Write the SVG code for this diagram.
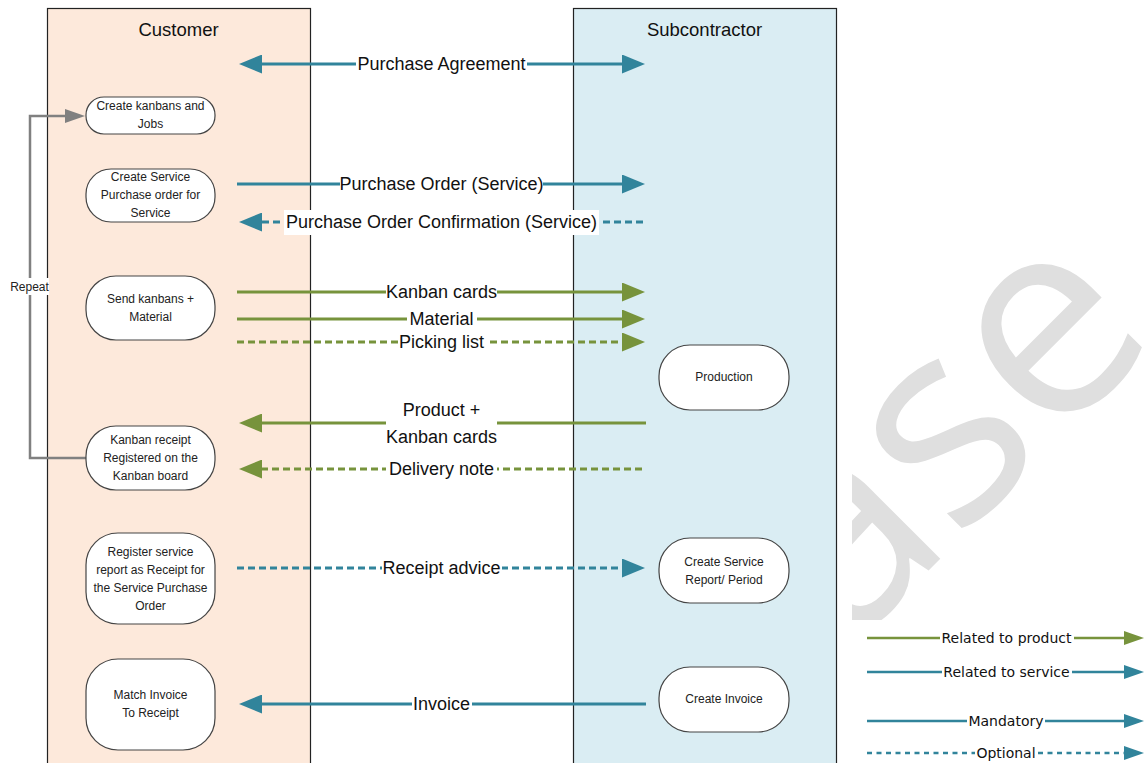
<svg xmlns="http://www.w3.org/2000/svg" width="1144" height="763" viewBox="0 0 1144 763">
<defs>
<style>
.lane{stroke:#222;stroke-width:1.2}
.title{font-family:"Liberation Sans",Arial,sans-serif;font-size:18.5px;fill:#111;text-anchor:middle}
.node rect{fill:#fff;stroke:#444;stroke-width:1.2}
.node text{font-family:"Liberation Sans",Arial,sans-serif;font-size:12px;fill:#222;text-anchor:middle}
.ln{fill:none;stroke-width:3}
.blue{stroke:#31849b}
.green{stroke:#77933c}
.dot{stroke-dasharray:7 4}
.lbl{font-family:"Liberation Sans",Arial,sans-serif;font-size:18px;fill:#111;text-anchor:middle}
.bg{fill:#fff}
.lg{fill:none;stroke-width:2.5}
.lgdot{stroke-dasharray:5 4.5}
.lgl{font-family:"DejaVu Sans",Verdana,sans-serif;font-size:14px;fill:#111;text-anchor:middle}
.rep{font-family:"Liberation Sans",Arial,sans-serif;font-size:12px;fill:#222;text-anchor:middle}
</style>
<marker id="ab" markerUnits="userSpaceOnUse" markerWidth="23" markerHeight="19" viewBox="0 0 23 19" refX="0" refY="9.5" orient="auto-start-reverse"><path d="M0,0 L23,9.5 L0,19z" fill="#31849b"/></marker>
<marker id="ag" markerUnits="userSpaceOnUse" markerWidth="23" markerHeight="19" viewBox="0 0 23 19" refX="0" refY="9.5" orient="auto-start-reverse"><path d="M0,0 L23,9.5 L0,19z" fill="#77933c"/></marker>
<marker id="agr" markerUnits="userSpaceOnUse" markerWidth="20" markerHeight="14" viewBox="0 0 20 14" refX="0" refY="7" orient="auto"><path d="M0,0 L20,7 L0,14z" fill="#808080"/></marker>
<marker id="lb" markerUnits="userSpaceOnUse" markerWidth="20" markerHeight="14" viewBox="0 0 20 14" refX="0" refY="7" orient="auto"><path d="M0,0 L20,7 L0,14z" fill="#31849b"/></marker>
<marker id="lgm" markerUnits="userSpaceOnUse" markerWidth="20" markerHeight="14" viewBox="0 0 20 14" refX="0" refY="7" orient="auto"><path d="M0,0 L20,7 L0,14z" fill="#77933c"/></marker>
<clipPath id="wm"><rect x="852" y="0" width="292" height="620"/></clipPath>
</defs>
<rect width="1144" height="763" fill="#fff"/>

<g id="watermark" clip-path="url(#wm)">
<text x="137" y="1060" transform="rotate(-45)" font-family="'Open Sans',sans-serif" font-size="280" fill="#dfdfdf">ase</text>
</g>

<g id="lane-customer">
<rect class="lane" x="47.5" y="8.5" width="263" height="770" fill="#fde9db"/>
<text class="title" x="178.5" y="35.5">Customer</text>
</g>
<g id="lane-subcontractor">
<rect class="lane" x="573.5" y="8.5" width="263" height="770" fill="#daedf3"/>
<text class="title" x="704.5" y="35.5">Subcontractor</text>
</g>

<g id="connectors">
<line class="ln blue" x1="262" y1="64" x2="622" y2="64" marker-start="url(#ab)" marker-end="url(#ab)"/>
<rect class="bg" x="356" y="53" width="171" height="22"/>
<text class="lbl" x="441.5" y="70">Purchase Agreement</text>
<line class="ln blue" x1="237" y1="184" x2="622" y2="184" marker-end="url(#ab)"/>
<rect class="bg" x="340" y="173" width="203" height="22"/>
<text class="lbl" x="441.5" y="190">Purchase Order (Service)</text>
<line class="ln blue dot" x1="643" y1="222" x2="262" y2="222" marker-end="url(#ab)"/>
<rect class="bg" x="284" y="210" width="315" height="25"/>
<text class="lbl" x="441.5" y="228">Purchase Order Confirmation (Service)</text>
<line class="ln green" x1="237" y1="292" x2="622" y2="292" marker-end="url(#ag)"/>
<rect class="bg" x="386" y="281" width="111" height="22"/>
<text class="lbl" x="441.5" y="298">Kanban cards</text>
<line class="ln green" x1="237" y1="319" x2="622" y2="319" marker-end="url(#ag)"/>
<rect class="bg" x="407" y="308" width="70" height="21"/>
<text class="lbl" x="441.5" y="325">Material</text>
<line class="ln green dot" x1="237" y1="342" x2="622" y2="342" marker-end="url(#ag)"/>
<rect class="bg" x="398" y="331" width="88" height="22"/>
<text class="lbl" x="441.5" y="348">Picking list</text>
<line class="ln green" x1="646" y1="423" x2="262" y2="423" marker-end="url(#ag)"/>
<rect class="bg" x="386" y="398" width="111" height="48"/>
<text class="lbl" x="441.5" y="416">Product +</text>
<text class="lbl" x="441.5" y="443">Kanban cards</text>
<line class="ln green dot" x1="642" y1="469" x2="262" y2="469" marker-end="url(#ag)"/>
<rect class="bg" x="386" y="458" width="111" height="24"/>
<text class="lbl" x="441.5" y="475">Delivery note</text>
<line class="ln blue dot" x1="237" y1="568" x2="622" y2="568" marker-end="url(#ab)"/>
<rect class="bg" x="382" y="557" width="120" height="24"/>
<text class="lbl" x="441.5" y="574">Receipt advice</text>
<line class="ln blue" x1="646" y1="704" x2="262" y2="704" marker-end="url(#ab)"/>
<rect class="bg" x="412" y="693" width="60" height="22"/>
<text class="lbl" x="441.5" y="710">Invoice</text>
<path d="M86,458 H30 V116 H65" fill="none" stroke="#808080" stroke-width="2.5" marker-end="url(#agr)"/>
<rect class="bg" x="10" y="278" width="39" height="17"/>
<text class="rep" x="29.5" y="291">Repeat</text>
</g>

<g id="node-create-kanbans" class="node">
<rect x="86" y="97" width="129" height="37" rx="18" ry="18"/>
<text x="150.5" y="110">Create kanbans and</text>
<text x="150.5" y="128">Jobs</text>
</g>
<g id="node-create-po" class="node">
<rect x="86" y="169" width="129" height="53" rx="25" ry="25"/>
<text x="150.5" y="181">Create Service</text>
<text x="150.5" y="199">Purchase order for</text>
<text x="150.5" y="217">Service</text>
</g>
<g id="node-send-kanbans" class="node">
<rect x="86" y="276" width="129" height="64" rx="30" ry="30"/>
<text x="150.5" y="303">Send kanbans +</text>
<text x="150.5" y="321">Material</text>
</g>
<g id="node-kanban-receipt" class="node">
<rect x="86" y="426" width="129" height="64" rx="30" ry="30"/>
<text x="150.5" y="444">Kanban receipt</text>
<text x="150.5" y="462">Registered on the</text>
<text x="150.5" y="480">Kanban board</text>
</g>
<g id="node-register-service" class="node">
<rect x="86" y="533" width="129" height="91" rx="32" ry="32"/>
<text x="150.5" y="556">Register service</text>
<text x="150.5" y="574">report as Receipt for</text>
<text x="150.5" y="592">the Service Purchase</text>
<text x="150.5" y="610">Order</text>
</g>
<g id="node-match-invoice" class="node">
<rect x="86" y="659" width="129" height="91" rx="32" ry="32"/>
<text x="150.5" y="699">Match Invoice</text>
<text x="150.5" y="717">To Receipt</text>
</g>
<g id="node-production" class="node">
<rect x="659" y="345" width="130" height="65" rx="31" ry="31"/>
<text x="724" y="381">Production</text>
</g>
<g id="node-service-report" class="node">
<rect x="659" y="538" width="130" height="65" rx="31" ry="31"/>
<text x="724" y="566">Create Service</text>
<text x="724" y="584">Report/ Period</text>
</g>
<g id="node-create-invoice" class="node">
<rect x="659" y="667" width="130" height="65" rx="31" ry="31"/>
<text x="724" y="703">Create Invoice</text>
</g>

<g id="legend">
<line class="lg green" x1="867" y1="638" x2="1124" y2="638" marker-end="url(#lgm)"/>
<rect class="bg" x="940" y="629" width="134" height="18"/>
<text class="lgl" x="1006.5" y="643">Related to product</text>
<line class="lg blue" x1="867" y1="672" x2="1124" y2="672" marker-end="url(#lb)"/>
<rect class="bg" x="942" y="663" width="130" height="18"/>
<text class="lgl" x="1006.5" y="677">Related to service</text>
<line class="lg blue" x1="867" y1="721" x2="1124" y2="721" marker-end="url(#lb)"/>
<rect class="bg" x="967" y="712" width="78" height="18"/>
<text class="lgl" x="1006" y="726">Mandatory</text>
<line class="lg blue lgdot" x1="867" y1="753" x2="1124" y2="753" marker-end="url(#lb)"/>
<rect class="bg" x="975" y="744" width="62" height="18"/>
<text class="lgl" x="1006" y="758">Optional</text>
</g>
</svg>
